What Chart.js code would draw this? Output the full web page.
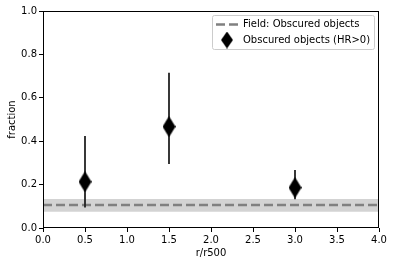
<!DOCTYPE html>
<html>
<head>
<meta charset="utf-8">
<script src="https://cdn.jsdelivr.net/npm/chart.js@4"></script>
<style>
  html, body { margin: 0; padding: 0; background: #fff; }
  #wrap { width: 394px; height: 266px; }
</style>
</head>
<body>
<div id="wrap"><canvas id="fracChart" width="394" height="266"></canvas></div>
<script>
// radial bins (r/r500) and obscured fraction with its error range
const radii = [0.5, 1.5, 3.0];
const fraction = [0.213, 0.467, 0.186];
const errLow = [0.094, 0.295, 0.132];
const errHigh = [0.424, 0.716, 0.267];

// field value and its band
const fieldX = [0, 4];
const fieldValue = 0.106;
const fieldLow = 0.075;
const fieldHigh = 0.134;

const xTicks = [0, 0.5, 1, 1.5, 2, 2.5, 3, 3.5, 4];
const yTicks = [0, 0.2, 0.4, 0.6, 0.8, 1.0];

// thin diamond marker like matplotlib 'd'
function makeDiamond(w, h) {
    const c = document.createElement('canvas');
    c.width = w;
    c.height = h;
    const g = c.getContext('2d');
    g.fillStyle = '#000';
    g.beginPath();
    g.moveTo(w / 2, 0);
    g.lineTo(w, h / 2);
    g.lineTo(w / 2, h);
    g.lineTo(0, h / 2);
    g.closePath();
    g.fill();
    return c;
}
const diamond = makeDiamond(13, 21);
const legendDiamond = makeDiamond(12, 17);

const errorBars = {
    id: 'errorBars',
    beforeDatasetDraw(chart, args) {
        if (args.index !== 0) return;
        const ctx = chart.ctx;
        const x = chart.scales.x, y = chart.scales.y;
        ctx.save();
        ctx.strokeStyle = '#222';
        ctx.lineWidth = 1.8;
        for (let i = 0; i < radii.length; i++) {
            const px = x.getPixelForValue(radii[i]);
            ctx.beginPath();
            ctx.moveTo(px, y.getPixelForValue(errLow[i]));
            ctx.lineTo(px, y.getPixelForValue(errHigh[i]));
            ctx.stroke();
        }
        ctx.restore();
    }
};

const frameAndLegend = {
    id: 'frameAndLegend',
    afterDraw(chart) {
        const ctx = chart.ctx;
        const a = chart.chartArea;
        ctx.save();
        ctx.strokeStyle = '#000';
        ctx.lineWidth = 1;
        ctx.strokeRect(a.left + 0.5, a.top + 0.5, a.right - a.left - 1, a.bottom - a.top - 1);

        // legend box
        const bx = a.right - 167, by = a.top + 4, bw = 162, bh = 34;
        ctx.fillStyle = 'rgba(255,255,255,0.8)';
        ctx.strokeStyle = '#cccccc';
        ctx.beginPath();
        ctx.roundRect(bx + 0.5, by + 0.5, bw, bh, 2);
        ctx.fill();
        ctx.stroke();

        ctx.strokeStyle = 'gray';
        ctx.lineWidth = 2.5;
        ctx.setLineDash([9, 4]);
        ctx.beginPath();
        ctx.moveTo(bx + 4, by + 9.5);
        ctx.lineTo(bx + 26, by + 9.5);
        ctx.stroke();
        ctx.setLineDash([]);

        ctx.drawImage(legendDiamond, bx + 15 - 6, by + 25 - 8.5);

        ctx.fillStyle = '#000';
        ctx.font = '10px "DejaVu Sans"';
        ctx.textBaseline = 'middle';
        ctx.fillText('Field: Obscured objects', bx + 31, by + 9.5);
        ctx.fillText('Obscured objects (HR>0)', bx + 31, by + 25);
        ctx.restore();
    }
};

const ctx = document.getElementById('fracChart').getContext('2d');
new Chart(ctx, {
    type: 'scatter',
    data: {
        datasets: [
            {
                label: 'Obscured objects (HR>0)',
                data: radii.map((r, i) => ({ x: r, y: fraction[i] })),
                pointStyle: diamond,
                borderWidth: 0,
                showLine: false
            },
            {
                label: 'Field: Obscured objects',
                data: fieldX.map(v => ({ x: v, y: fieldValue })),
                showLine: true,
                borderColor: 'gray',
                borderWidth: 2.5,
                borderDash: [9, 4],
                pointRadius: 0,
                fill: false
            },
            {
                label: 'band low',
                data: fieldX.map(v => ({ x: v, y: fieldLow })),
                showLine: true,
                borderWidth: 0,
                pointRadius: 0,
                fill: false
            },
            {
                label: 'band high',
                data: fieldX.map(v => ({ x: v, y: fieldHigh })),
                showLine: true,
                borderWidth: 0,
                pointRadius: 0,
                backgroundColor: 'lightgray',
                fill: '-1'
            }
        ]
    },
    options: {
        responsive: false,
        animation: false,
        layout: { padding: { top: 11, right: 15, left: 0, bottom: 0 } },
        plugins: {
            legend: { display: false },
            tooltip: { enabled: false },
            filler: { drawTime: 'beforeDatasetsDraw' }
        },
        scales: {
            x: {
                type: 'linear',
                min: 0,
                max: 4,
                afterFit: s => { s.height = 38; },
                afterBuildTicks: s => { s.ticks = xTicks.map(v => ({ value: v })); },
                grid: { display: true, drawOnChartArea: false, drawTicks: true, tickLength: 4, color: '#000' },
                border: { display: false },
                ticks: {
                    color: '#000',
                    padding: 2,
                    maxRotation: 0,
                    font: { family: 'DejaVu Sans', size: 10 },
                    callback: v => v.toFixed(1)
                },
                title: {
                    display: true,
                    text: 'r/r500',
                    color: '#000',
                    padding: { top: 1, bottom: 7 },
                    font: { family: 'DejaVu Sans', size: 10 }
                }
            },
            y: {
                min: 0,
                max: 1,
                afterFit: s => { s.width = 43; },
                afterBuildTicks: s => { s.ticks = yTicks.map(v => ({ value: v })); },
                grid: { display: true, drawOnChartArea: false, drawTicks: true, tickLength: 4, color: '#000' },
                border: { display: false },
                ticks: {
                    color: '#000',
                    padding: 2,
                    font: { family: 'DejaVu Sans', size: 10 },
                    callback: v => v.toFixed(1)
                },
                title: {
                    display: true,
                    text: 'fraction',
                    color: '#000',
                    padding: { top: 6, bottom: 2 },
                    font: { family: 'DejaVu Sans', size: 10 }
                }
            }
        }
    },
    plugins: [errorBars, frameAndLegend]
});
</script>
</body>
</html>
